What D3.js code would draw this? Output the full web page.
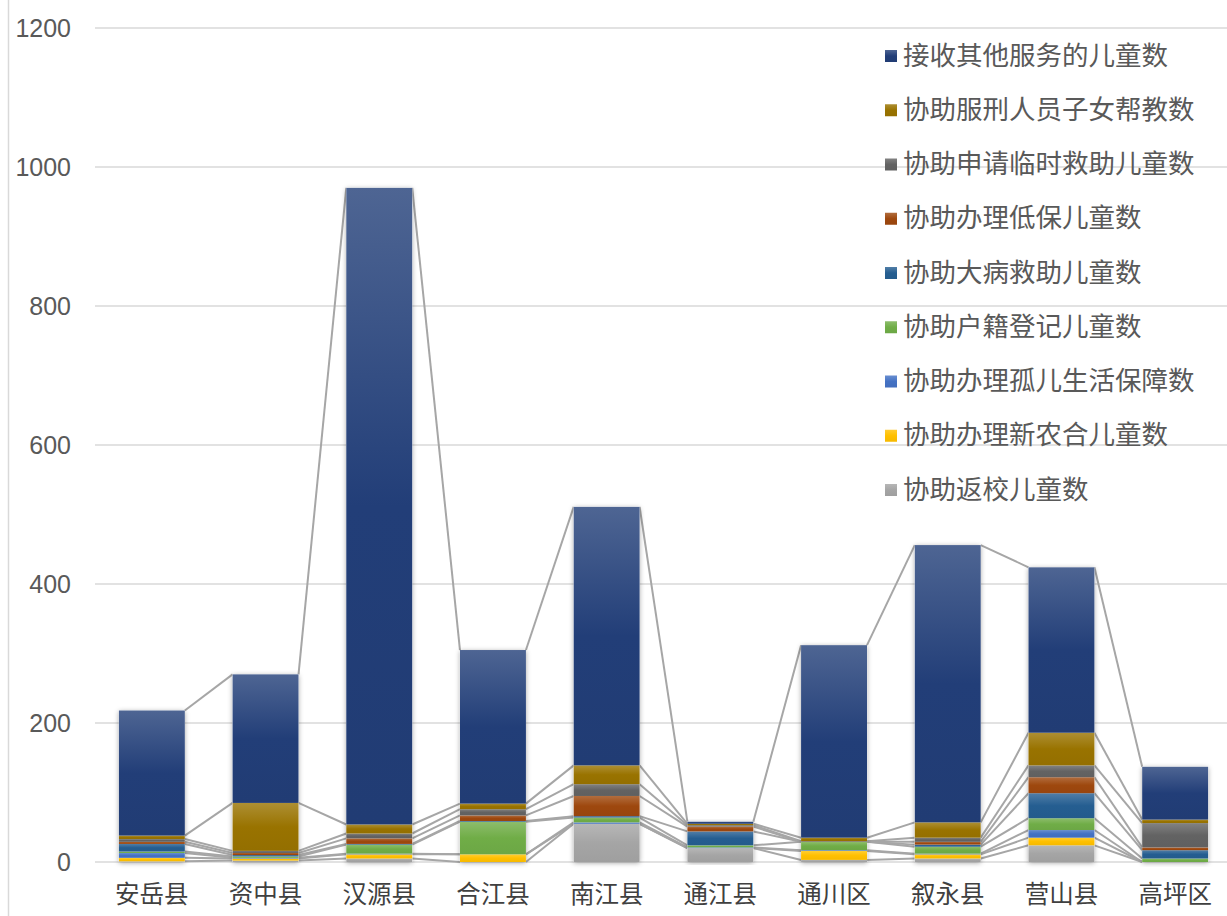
<!DOCTYPE html>
<html><head><meta charset="utf-8">
<script src="https://cdn.jsdelivr.net/npm/d3@7/dist/d3.min.js"></script>
<style>html,body{margin:0;padding:0;background:#fff;}svg{display:block;}</style>
</head><body>
<svg id="chart" width="1227" height="916"></svg>
<script>
const categories = ["安岳县","资中县","汉源县","合江县","南江县","通江县","通川区","叙永县","营山县","高坪区"];
const seriesNames = ["协助返校儿童数","协助办理新农合儿童数","协助办理孤儿生活保障数","协助户籍登记儿童数","协助大病救助儿童数","协助办理低保儿童数","协助申请临时救助儿童数","协助服刑人员子女帮教数","接收其他服务的儿童数"];
const fanxiao   = [1, 2, 5, 0, 55, 20, 3, 5, 24, 0];
const xinnonghe = [5, 3, 6, 11, 0, 0, 13, 6, 11, 0];
const guer      = [7, 1, 1, 0, 2, 1, 1, 1, 11, 0];
const huji      = [2, 2, 13, 47, 7, 3, 12, 10, 17, 5];
const dabing    = [11, 2, 1, 1, 2, 20, 0, 3, 36, 12];
const dibao     = [3, 3, 8, 8, 29, 7, 0, 4, 23, 4];
const linshi    = [4, 3, 7, 9, 17, 2, 1, 6, 17, 35];
const fuxing    = [5, 69, 13, 8, 27, 2, 5, 22, 47, 5];
const qita      = [180, 185, 916, 221, 372, 3, 277, 399, 238, 76];
const yTicks = [0, 200, 400, 600, 800, 1000, 1200];

const seriesValues = [fanxiao, xinnonghe, guer, huji, dabing, dibao, linshi, fuxing, qita];
const colors = ["#a5a5a5","#ffc000","#4472c4","#70ad47","#255e91","#9e480e","#636363","#997300","#223e78"];

const svg = d3.select("#chart");
const W = 1227, H = 916;
const pLeft = 95, pRight = 1232, pTop = 28, pBottom = 862;

const x = d3.scaleBand().domain(categories).range([pLeft, pRight]).paddingInner(0.42).paddingOuter(0.21);
const y = d3.scaleLinear().domain([0, 1200]).range([pBottom, pTop]);

const defs = svg.append("defs");
const f = defs.append("filter").attr("id","shadow").attr("x","-20%").attr("y","-5%").attr("width","140%").attr("height","110%");
f.append("feDropShadow").attr("dx",0).attr("dy",1).attr("stdDeviation",2.5).attr("flood-color","#000").attr("flood-opacity",0.35);

colors.forEach((c,i)=>{
  const g = defs.append("linearGradient").attr("id","grad"+i).attr("x1",0).attr("y1",0).attr("x2",0).attr("y2",1);
  g.append("stop").attr("offset","0%").attr("stop-color", d3.interpolateRgb(c,"#ffffff")(0.2));
  g.append("stop").attr("offset","50%").attr("stop-color", c);
  g.append("stop").attr("offset","100%").attr("stop-color", d3.color(c).darker(0.1));
});

// chart border left
svg.append("line").attr("x1",8.5).attr("x2",8.5).attr("y1",0).attr("y2",H).attr("stroke","#d9d9d9").attr("stroke-width",1.5);

// gridlines
svg.append("g").selectAll("line").data(yTicks).join("line")
  .attr("x1", pLeft).attr("x2", W).attr("y1", d=>y(d)).attr("y2", d=>y(d))
  .attr("stroke","#d9d9d9").attr("stroke-width",1.5);

// y labels
svg.append("g").selectAll("text").data(yTicks).join("text")
  .attr("x", 71).attr("y", d=>y(d)).attr("text-anchor","end").attr("dominant-baseline","central")
  .attr("font-family","'Liberation Sans', Arial, sans-serif").attr("font-size",25).attr("fill","#595959")
  .text(d=>d);

// stack
const table = categories.map((c,i)=>{ const o={cat:c}; seriesNames.forEach((s,k)=>o[s]=seriesValues[k][i]); return o; });
const stacked = d3.stack().keys(seriesNames)(table);

// series lines
const lg = svg.append("g");
stacked.forEach((ser)=>{
  for(let i=0;i<categories.length-1;i++){
    lg.append("line")
      .attr("x1", x(categories[i]) + x.bandwidth()).attr("y1", y(ser[i][1]))
      .attr("x2", x(categories[i+1])).attr("y2", y(ser[i+1][1]))
      .attr("stroke","#a6a6a6").attr("stroke-width",2);
  }
});

// shadows behind bars
const totals = categories.map((c,i)=>d3.sum(seriesValues, s=>s[i]));
svg.append("g").selectAll("rect").data(categories).join("rect")
  .attr("x", d=>x(d)).attr("width", x.bandwidth())
  .attr("y", (d,i)=>y(totals[i])).attr("height",(d,i)=>y(0)-y(totals[i]))
  .attr("fill","#fff").attr("filter","url(#shadow)");

// bars
const bg = svg.append("g");
stacked.forEach((ser,k)=>{
  bg.append("g").selectAll("rect").data(ser).join("rect")
    .attr("x", d=>x(d.data.cat)).attr("width", x.bandwidth())
    .attr("y", d=>y(d[1])).attr("height", d=>Math.max(0, y(d[0])-y(d[1])))
    .attr("fill","url(#grad"+k+")");
});

// x labels
svg.append("g").selectAll("text").data(categories).join("text")
  .attr("x", d=>x(d)+x.bandwidth()/2).attr("y", 892).attr("text-anchor","middle").attr("dominant-baseline","central")
  .attr("font-family","'Noto Sans CJK SC', sans-serif").attr("font-size",24.5).attr("fill","#404040")
  .text(d=>d);

// legend
const legendOrder = seriesNames.map((s,k)=>k).reverse();
const leg = svg.append("g");
legendOrder.forEach((k,j)=>{
  const cy = 56 + j*54.25;
  leg.append("rect").attr("x",885).attr("y",cy-6).attr("width",12).attr("height",12).attr("fill","url(#grad"+k+")");
  leg.append("text").attr("x",903).attr("y",cy-3).attr("dominant-baseline","central")
    .attr("font-family","'Noto Sans CJK SC', sans-serif").attr("font-size",26.5).attr("fill","#595959")
    .text(seriesNames[k]);
});
</script>
</body></html>
